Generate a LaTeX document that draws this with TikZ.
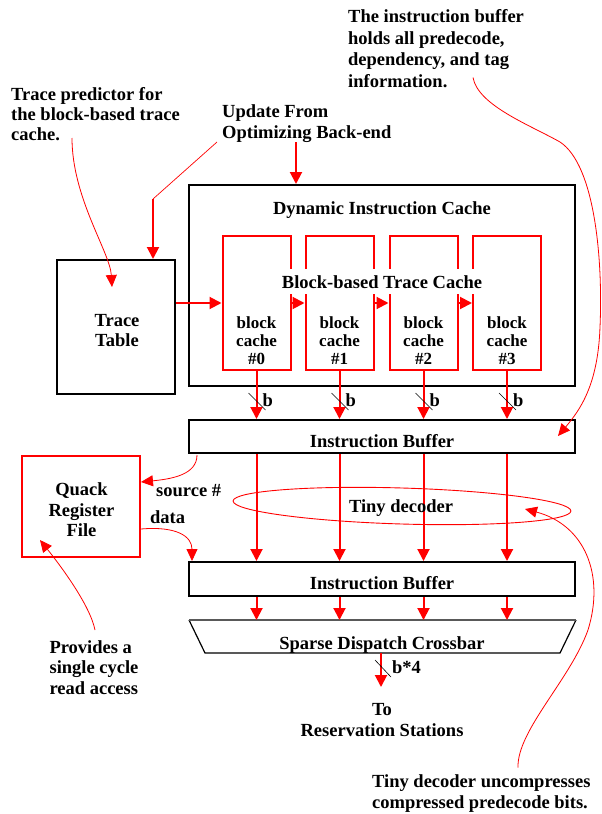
\documentclass[tikz,border=0pt]{standalone}
\usepackage{fontspec}
\setmainfont{Liberation Serif}
\usetikzlibrary{arrows.meta,calc,shapes.geometric}
\begin{document}
\begin{tikzpicture}[x=1pt,y=-1pt,
  txt/.style={font=\fontsize{18.5}{20.5}\selectfont\bfseries, inner sep=0pt, align=center},
  wide/.style={font=\fontsize{18.5}{21.5}\selectfont\bfseries, inner sep=0pt, align=left},
  small/.style={font=\fontsize{17}{18}\selectfont\bfseries, inner sep=0pt, align=center},
  blk/.style={draw=black, line width=2pt, inner sep=0pt},
  rbox/.style={draw=red, line width=2pt, inner sep=0pt},
  rarr/.style={draw=red, line width=2pt, -{Triangle[width=12pt,length=12pt]}},
  tarr/.style={draw=red, line width=0.8pt, -{Triangle[width=11pt,length=12pt]}},
  slash/.style={draw=black, line width=0.6pt}]
\useasboundingbox (0,0) rectangle (602,814);

% Dynamic instruction cache
\node[blk, minimum width=386pt, minimum height=201pt] (dic) at (382,285.5) {};
\node[txt, anchor=base] (dict) at (382,214) {Dynamic Instruction Cache};

% block caches
\foreach \i/\x in {0/256.5,1/339.5,2/423.5,3/507} {
  \node[rbox, minimum width=68pt, minimum height=134pt] (bc\i) at (\x,303) {};
  \node[small, anchor=north] (bcl\i) at (\x,316.5) {block\\cache\\\#\i};
}
\node[txt, anchor=base, fill=white, inner xsep=3pt, inner ysep=6pt] (bbtc) at (382,288) {Block-based Trace Cache};
\foreach \a/\b in {0/1,1/2,2/3} \draw[rarr] (bc\a.east) -- (bc\b.west);

% Trace table
\node[blk, minimum width=118pt, minimum height=134pt] (tt) at (116,327) {};
\node[txt, anchor=north] (ttl) at (117,313.7) {Trace\\Table};
\draw[rarr] (tt.east |- bc0.west) -- (bc0.west);

% Update from back-end
\node[wide, anchor=north west, font=\fontsize{18.5}{20.5}\selectfont\bfseries] (upd) at (222,104.5) {Update From\\Optimizing Back-end};
\coordinate (updk) at (153,199);
\coordinate (ua) at (296,142);
\draw[red, line width=0.7pt] ($(upd.north west)+(-5,37.5)$) -- (updk);
\draw[rarr] (updk) -- (updk |- tt.north);
\draw[rarr] (ua) -- (ua |- dic.north);

% Instruction buffers
\node[blk, minimum width=386pt, minimum height=33pt] (ib1) at (382,436.5) {};
\node[txt, anchor=base] (ib1l) at (382,447) {Instruction Buffer};
\node[blk, minimum width=386pt, minimum height=34pt] (ib2) at (382,579) {};
\node[txt, anchor=base] (ib2l) at (382,589) {Instruction Buffer};

% Sparse dispatch crossbar
\coordinate (xtl) at (189,620);
\coordinate (xtr) at (576,620);
\coordinate (xbr) at (560,653);
\coordinate (xbl) at (205,653);
\draw[black, line width=1.2pt] (xtr) -- (xbr) -- (xbl) -- (xtl);
\draw[black!65, line width=1.8pt] (xtl) -- (xtr);
\node[txt, anchor=base] (xbarl) at (382,649) {Sparse Dispatch Crossbar};

% vertical datapaths
\foreach \i in {0,...,3} {
  \draw[rarr] (bc\i.south) -- (bc\i.south |- ib1.north);
  \draw[slash] ($(bc\i.south)+(-8,22)$) -- ++(17,17);
  \node[txt, anchor=base west] (bl\i) at ($(bc\i.south)+(6,35)$) {b};
  \draw[rarr] (bc\i.south |- ib1.south) -- (bc\i.south |- ib2.north);
  \draw[rarr] (bc\i.south |- ib2.south) -- (bc\i.south |- xtl);
}

% Tiny decoder
\node[draw=red, line width=0.9pt, ellipse, minimum width=338pt, minimum height=36pt, inner sep=0pt, rotate=-1.7] (td) at (402,506) {};
\node[txt, anchor=base] (tdl) at (401,512) {Tiny decoder};

% output
\coordinate (xout) at (381,653);
\draw[rarr] (xout) -- ++(0,34);
\draw[slash] ($(xout)+(-6,7)$) -- ++(16,17);
\node[txt, anchor=base west] (b4) at ($(xout)+(11,20)$) {b*4};
\node[txt, anchor=north] (to) at (382,703.5) {To\\Reservation Stations};

% Quack register file
\node[rbox, minimum width=118pt, minimum height=101pt] (qrf) at (81,506.5) {};
\node[txt, anchor=north] (qrfl) at (81.5,482.5) {Quack\\Register\\File};
\draw[tarr] ($(ib1.south west)+(9,1)$) .. controls +(0,20) and +(30,-3) .. ($(qrf.east)+(0,-24.5)$);
\node[txt, anchor=base west] (src) at (156,496) {source \#};
\node[txt, anchor=base west] (dat) at (150,523) {data};
\draw[tarr] ($(qrf.east)+(0,22.5)$) .. controls +(35,-3) and +(0,-25) .. ($(ib2.north west)+(4,0)$);

% annotations
\node[wide, anchor=north, font=\fontsize{18.5}{20.5}\selectfont\bfseries] (prov) at (94,640) {Provides a\\single cycle\\read access};
\draw[tarr] ($(prov.north)+(1,-10)$) .. controls +(-5,-25) and +(20,25) .. ($(qrf.center)+(-41,33.5)$);

\node[wide, anchor=north west, font=\fontsize{18.5}{20}\selectfont\bfseries] (tp) at (11,87.5) {Trace predictor for\\the block-based trace\\cache.};
\draw[tarr] ($(tp.north west)+(61,50.5)$) .. controls +(0,60) and +(-2,-35) .. ($(tt.north west)+(56,28)$);

\node[wide, anchor=north west] (iba) at (348,9.5) {The instruction buffer\\holds all predecode,\\dependency, and tag\\information.};
\coordinate (ibk1) at (560,142);
\coordinate (ibk2) at (600,327);
\draw[tarr] ($(iba.north west)+(125,68)$) .. controls +(5,28) and (530,125) .. (ibk1)
  .. controls (595,165) and (603,260) .. (ibk2)
  .. controls (598,385) and (580,410) .. ($(ib1.north east)+(-18,17)$);

\node[wide, anchor=north west, font=\fontsize{18.5}{20.5}\selectfont\bfseries] (tda) at (372,774.5) {Tiny decoder uncompresses\\compressed predecode bits.};
\coordinate (tdk) at (588,630);
\draw[tarr] ($(tda.north west)+(146,-7)$) .. controls +(-1,-37) and (570,680) .. (tdk)
  .. controls (605,575) and (585,525) .. ($(td.center)+(123,3)$);
\end{tikzpicture}
\end{document}
